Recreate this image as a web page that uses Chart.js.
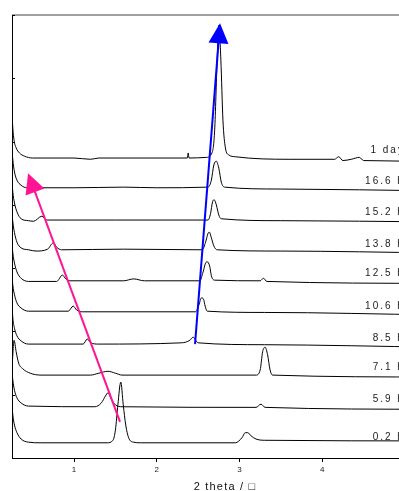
<!DOCTYPE html>
<html>
<head>
<meta charset="utf-8">
<script src="https://cdn.jsdelivr.net/npm/chart.js@4/dist/chart.umd.min.js"></script>
<style>
  html, body { margin: 0; padding: 0; background: #fff; overflow: hidden; }
  #wrap { width: 440px; height: 491px; }
</style>
</head>
<body>
<div id="wrap"><canvas id="xrd" width="440" height="491"></canvas></div>
<script>
// sample names, top trace first
const sampleLabels = ['1 day', '16.6 h', '15.2 h', '13.8 h', '12.5 h', '10.6 h', '8.5 h', '7.1 h', '5.9 h', '0.2 h'];
// where each name sits on the intensity axis
const labelLevels = [487, 438, 389, 338, 292, 240, 190, 144, 93, 33];

// 2 theta / intensity (offset) for each pattern
const tt1day = [0.25, 0.26, 0.275, 0.30, 0.34, 0.40, 0.50, 1.00, 1.20, 1.30, 2.37, 2.38, 2.39, 2.60, 2.67, 2.70, 2.73, 2.75, 2.775, 2.80, 2.83, 2.87, 2.95, 3.60, 4.15, 4.20, 4.25, 4.35, 4.45, 4.50, 5.40];
const in1day = [545, 521, 502, 490, 482, 477, 474, 474, 472, 474, 474, 482, 474, 475, 483, 518, 629, 684, 629, 534, 490, 479, 476, 472, 472, 476, 470, 472, 475, 470, 469];

const tt166 = [0.25, 0.26, 0.28, 0.31, 0.36, 0.43, 0.50, 0.56, 1.00, 1.60, 2.00, 2.62, 2.66, 2.69, 2.72, 2.75, 2.78, 2.82, 3.50, 5.40];
const in166 = [487, 471, 452, 439, 431, 427, 430, 427, 427, 428, 427, 428, 439, 463, 469, 458, 436, 428, 425, 422];

const tt152 = [0.25, 0.26, 0.28, 0.31, 0.36, 0.45, 0.51, 0.61, 0.67, 1.50, 2.62, 2.65, 2.675, 2.695, 2.72, 2.75, 2.78, 3.50, 5.40];
const in152 = [436, 420, 403, 389, 378, 375, 374, 382, 376, 376, 376, 386, 405, 408, 400, 384, 378, 375, 373];

const tt138 = [0.25, 0.26, 0.28, 0.31, 0.36, 0.45, 0.54, 0.68, 0.75, 0.79, 0.85, 1.60, 2.55, 2.59, 2.62, 2.635, 2.66, 2.69, 2.73, 3.50, 5.40];
const in138 = [387, 373, 356, 341, 332, 329, 327, 330, 340, 333, 329, 330, 329, 341, 355, 357, 348, 335, 329, 327, 324];

const tt125 = [0.25, 0.26, 0.28, 0.31, 0.36, 0.45, 0.79, 0.86, 0.90, 0.95, 1.60, 1.72, 1.85, 2.52, 2.56, 2.59, 2.61, 2.64, 2.66, 2.70, 3.25, 3.29, 3.33, 5.40];
const in125 = [340, 324, 308, 294, 284, 279, 279, 289, 283, 280, 280, 283, 280, 280, 294, 308, 310, 303, 288, 281, 280, 284, 279, 276];

const tt106 = [0.25, 0.26, 0.28, 0.31, 0.36, 0.45, 0.93, 0.99, 1.03, 1.10, 2.47, 2.51, 2.54, 2.565, 2.585, 2.61, 3.30, 5.40];
const in106 = [289, 273, 258, 245, 237, 232, 232, 240, 234, 231, 231, 242, 253, 251, 240, 232, 230, 226];

const tt85 = [0.25, 0.26, 0.28, 0.31, 0.36, 0.45, 1.11, 1.16, 1.20, 1.30, 2.30, 2.40, 2.44, 2.47, 2.50, 3.30, 5.40];
const in85 = [242, 221, 205, 193, 185, 180, 180, 188, 182, 180, 182, 186, 191, 186, 182, 179, 175];

const tt71 = [0.25, 0.275, 0.30, 0.33, 0.38, 0.47, 0.60, 1.20, 1.30, 1.41, 1.50, 1.58, 3.20, 3.25, 3.28, 3.31, 3.34, 3.37, 3.40, 5.40];
const in71 = [142, 186, 168, 150, 141, 134, 131, 131, 134, 137, 134, 131, 131, 139, 168, 175, 163, 139, 131, 128];

const tt59 = [0.25, 0.26, 0.28, 0.31, 0.36, 0.45, 1.25, 1.33, 1.38, 1.41, 1.45, 1.50, 1.58, 3.20, 3.26, 3.31, 5.40];
const in59 = [136, 123, 107, 95, 87, 82, 81, 87, 98, 103, 93, 84, 81, 80, 85, 80, 77];

const tt02 = [0.25, 0.26, 0.28, 0.31, 0.36, 0.45, 0.60, 1.40, 1.47, 1.50, 1.53, 1.565, 1.595, 1.625, 1.66, 1.72, 1.80, 2.95, 3.03, 3.07, 3.10, 3.14, 3.20, 3.30, 5.40];
const in02 = [84, 68, 52, 40, 30, 25, 24, 24, 28, 44, 84, 120, 84, 52, 32, 25, 24, 24, 32, 40, 40, 35, 30, 28, 27];

// arrows: [tail, head] in (2 theta, intensity)
const pinkArrow = [[1.556, 57], [0.444, 450]];
const blueArrow = [[2.463, 180], [2.765, 687]];

const patterns = [
  [tt1day, in1day], [tt166, in166], [tt152, in152], [tt138, in138], [tt125, in125],
  [tt106, in106], [tt85, in85], [tt71, in71], [tt59, in59], [tt02, in02]
];

const FONT = 'Arial, "Liberation Sans", sans-serif';

const decorPlugin = {
  id: 'decor',
  afterDatasetsDraw(chart) {
    const { ctx, chartArea: a, scales: { x, y } } = chart;
    ctx.save();
    // frame top + right
    ctx.strokeStyle = '#444';
    ctx.lineWidth = 1.2;
    ctx.beginPath();
    ctx.moveTo(a.left, a.top); ctx.lineTo(a.right, a.top); ctx.lineTo(a.right, a.bottom);
    ctx.stroke();
    // inward y ticks
    ctx.strokeStyle = '#000';
    ctx.lineWidth = 1;
    y.ticks.forEach(t => {
      const py = Math.round(y.getPixelForValue(t.value)) + 0.5;
      ctx.beginPath(); ctx.moveTo(a.left, py); ctx.lineTo(a.left + 3, py); ctx.stroke();
    });

    function arrow(pts, color) {
      const x0 = x.getPixelForValue(pts[0][0]), y0 = y.getPixelForValue(pts[0][1]);
      const x1 = x.getPixelForValue(pts[1][0]), y1 = y.getPixelForValue(pts[1][1]);
      const ang = Math.atan2(y1 - y0, x1 - x0);
      const len = 20, half = 10;
      ctx.strokeStyle = color; ctx.fillStyle = color; ctx.lineWidth = 2;
      ctx.beginPath();
      ctx.moveTo(x0, y0);
      ctx.lineTo(x1 - Math.cos(ang) * len * 0.8, y1 - Math.sin(ang) * len * 0.8);
      ctx.stroke();
      const bx = x1 - Math.cos(ang) * len, by = y1 - Math.sin(ang) * len;
      ctx.beginPath();
      ctx.moveTo(x1, y1);
      ctx.lineTo(bx + Math.sin(ang) * half, by - Math.cos(ang) * half);
      ctx.lineTo(bx - Math.sin(ang) * half, by + Math.cos(ang) * half);
      ctx.closePath();
      ctx.fill();
    }
    arrow(pinkArrow, '#ff1493');
    arrow(blueArrow, '#0000ff');

    // sample names
    ctx.fillStyle = '#222';
    ctx.font = '10px ' + FONT;
    ctx.letterSpacing = '2px';
    ctx.textAlign = 'right';
    ctx.textBaseline = 'middle';
    sampleLabels.forEach((s, i) => {
      ctx.fillText(s, x.getPixelForValue(5.0), y.getPixelForValue(labelLevels[i]));
    });

    // axis title
    ctx.font = '11px ' + FONT;
    ctx.letterSpacing = '1.2px';
    ctx.textAlign = 'center';
    ctx.textBaseline = 'alphabetic';
    ctx.fillStyle = '#111';
    ctx.fillText('2 theta / \u25A1', (a.left + a.right) / 2, 490);
    ctx.restore();
  }
};

new Chart(document.getElementById('xrd'), {
  type: 'line',
  data: {
    datasets: patterns.map(([tt, inten], i) => ({
      label: sampleLabels[i],
      data: tt.map((v, k) => ({ x: v, y: inten[k] })),
      borderColor: '#000',
      borderWidth: 1,
      pointRadius: 0,
      fill: false,
      cubicInterpolationMode: 'monotone',
    }))
  },
  options: {
    responsive: false,
    animation: false,
    devicePixelRatio: 1,
    layout: { padding: { top: 15, right: 2, left: 0, bottom: 0 } },
    plugins: { legend: { display: false }, tooltip: { enabled: false } },
    scales: {
      x: {
        type: 'linear',
        min: 0.25, max: 5.4,
        afterFit: s => { s.height = 33; },
        grid: { drawOnChartArea: false, drawTicks: true, tickLength: 4, color: '#000' },
        border: { color: '#000', width: 1 },
        ticks: { stepSize: 1, includeBounds: false, padding: 3, color: '#222', font: { size: 8, family: FONT } }
      },
      y: {
        min: 0, max: 700,
        afterFit: s => { s.width = 12; },
        grid: { display: false },
        border: { color: '#000', width: 1 },
        ticks: { display: false, stepSize: 100 }
      }
    }
  },
  plugins: [decorPlugin]
});
</script>
</body>
</html>
